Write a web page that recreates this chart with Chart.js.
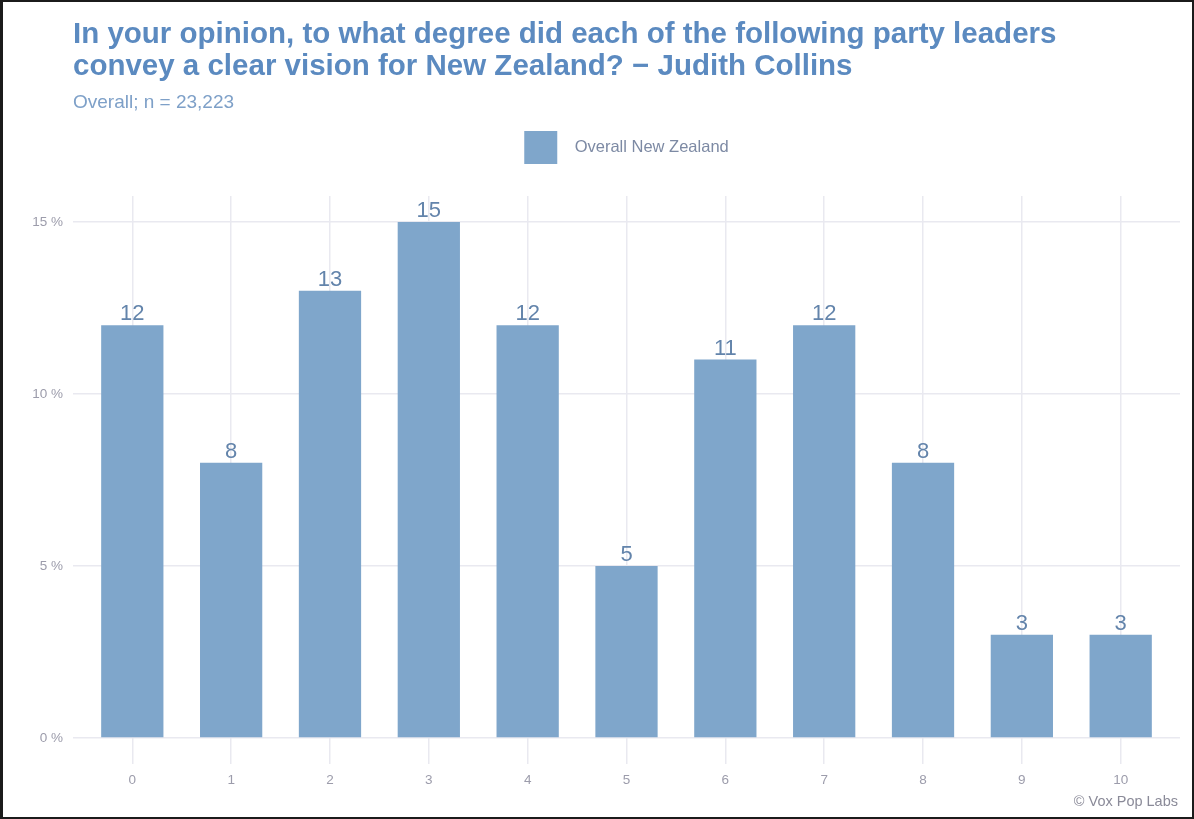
<!DOCTYPE html>
<html lang="en">
<head>
  <meta charset="UTF-8" />
  <title>Judith Collins – clear vision for New Zealand</title>
  <script src="https://cdn.jsdelivr.net/npm/chart.js@4.4.0"></script>
  <style>
    * { box-sizing: border-box; margin: 0; padding: 0; }
    html, body { background: #fff; }
    .frame {
      width: 1194px;
      height: 819px;
      border: 2px solid #1b1b1b;
      border-left-width: 3px;
      background: #fff;
    }
    .chart-box {
      position: relative;
      width: 1189px;
      height: 815px;
    }
  </style>
</head>
<body>
  <div class="frame">
    <div class="chart-box">
      <canvas id="visionChart"></canvas>
    </div>
  </div>

  <script>
    // Rating scale 0–10 and share of respondents (%)
    const scores = ['0', '1', '2', '3', '4', '5', '6', '7', '8', '9', '10'];
    const shares = [12, 8, 13, 15, 12, 5, 11, 12, 8, 3, 3];
    const yTicks = [0, 5, 10, 15];

    const BAR = '#7fa6cb';
    const FONT = "Arial, 'Liberation Sans', sans-serif";

    // numbers above each bar
    const barLabels = {
      id: 'barLabels',
      afterDatasetsDraw(chart) {
        const ctx = chart.ctx;
        const meta = chart.getDatasetMeta(0);
        ctx.save();
        ctx.font = '22px ' + FONT;
        ctx.fillStyle = '#6384ab';
        ctx.textAlign = 'center';
        ctx.textBaseline = 'bottom';
        meta.data.forEach((bar, i) => {
          ctx.fillText(String(shares[i]), bar.x, bar.y);
        });
        ctx.restore();
      }
    };

    // source note, bottom right
    const caption = {
      id: 'caption',
      afterDraw(chart) {
        const ctx = chart.ctx;
        ctx.save();
        ctx.font = '14.5px ' + FONT;
        ctx.fillStyle = '#8a8a98';
        ctx.textAlign = 'right';
        ctx.textBaseline = 'alphabetic';
        ctx.fillText('© Vox Pop Labs', chart.chartArea.right - 2, chart.height - 11);
        ctx.restore();
      }
    };

    // extra room between the legend and the plot
    const legendGap = {
      id: 'legendGap',
      afterInit(chart) {
        const lg = chart.legend;
        if (!lg) return;
        const fit = lg.fit;
        lg.fit = function () {
          fit.call(this);
          this.height += 22;
        };
      }
    };

    new Chart(document.getElementById('visionChart'), {
      type: 'bar',
      data: {
        datasets: [{
          label: 'Overall New Zealand',
          data: scores.map((s, i) => ({ x: i, y: shares[i] })),
          backgroundColor: BAR,
          borderWidth: 0,
          barPercentage: 0.63,
          categoryPercentage: 1
        }]
      },
      options: {
        responsive: true,
        maintainAspectRatio: false,
        animation: false,
        layout: { padding: { left: 0, right: 12, top: 4, bottom: 21 } },
        plugins: {
          title: {
            display: true,
            fullSize: false,
            align: 'start',
            text: [
              'In your opinion, to what degree did each of the following party leaders',
              'convey a clear vision for New Zealand? \u2212 Judith Collins'
            ],
            color: '#5b8ac0',
            font: { family: FONT, size: 29.5, weight: 'bold', lineHeight: 1.09 },
            padding: { top: 13, bottom: 0 }
          },
          subtitle: {
            display: true,
            fullSize: false,
            align: 'start',
            text: 'Overall; n = 23,223',
            color: '#7ea0c8',
            font: { family: FONT, size: 19, lineHeight: 1.2 },
            padding: { top: 8, bottom: 7 }
          },
          legend: {
            display: true,
            fullSize: false,
            labels: {
              boxWidth: 33,
              boxHeight: 33,
              padding: 10,
              color: '#7d8aa4',
              font: { family: FONT, size: 16.5 },
              generateLabels(chart) {
                const ds = chart.data.datasets[0];
                return [{
                  text: '  ' + ds.label,
                  fillStyle: ds.backgroundColor,
                  strokeStyle: ds.backgroundColor,
                  fontColor: '#7d8aa4',
                  lineWidth: 0,
                  datasetIndex: 0
                }];
              }
            }
          },
          tooltip: { enabled: false }
        },
        scales: {
          x: {
            type: 'linear',
            min: -0.6,
            max: 10.6,
            offset: false,
            afterBuildTicks(scale) {
              scale.ticks = scores.map((s, i) => ({ value: i }));
            },
            ticks: {
              callback: v => scores[v],
              color: '#9c9cab',
              font: { family: FONT, size: 13.5 },
              padding: 8,
              maxRotation: 0,
              autoSkip: false
            },
            grid: { offset: false, color: '#e9e9f0', lineWidth: 1.5, drawTicks: false },
            border: { display: false }
          },
          y: {
            min: -0.75,
            max: 15.75,
            afterBuildTicks(scale) {
              scale.ticks = yTicks.map(v => ({ value: v }));
            },
            afterFit(scale) {
              scale.width = 70;
            },
            ticks: {
              callback: v => v + ' %',
              color: '#9c9cab',
              font: { family: FONT, size: 13.5 },
              padding: 10
            },
            grid: { color: '#e9e9f0', lineWidth: 1.5, drawTicks: false },
            border: { display: false }
          }
        }
      },
      plugins: [barLabels, caption, legendGap]
    });
  </script>
</body>
</html>
